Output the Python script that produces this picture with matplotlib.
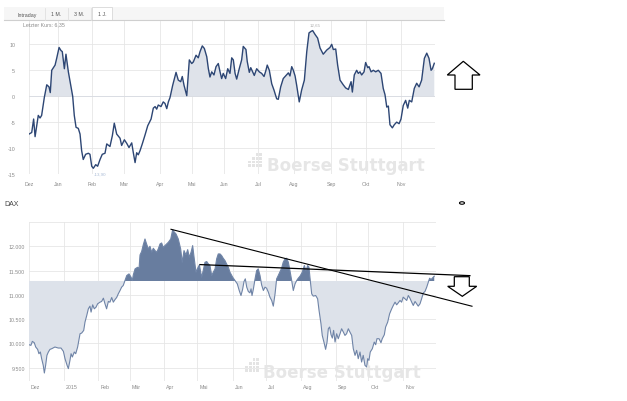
import matplotlib
matplotlib.use("Agg")
import matplotlib.pyplot as plt
from matplotlib.patches import Rectangle, Polygon, Ellipse
from matplotlib.lines import Line2D
import matplotlib.transforms as mtransforms
import numpy as np

plt.rcParams['font.family'] = ['Liberation Sans', 'DejaVu Sans']

# ---------------- data ----------------
# top chart: relative performance (%) vs trading-session index
top_t = [0, 1.7, 2.9, 3.8, 5.8, 6.9, 7.9, 9.6, 11.1, 12.5, 13.3, 14.2, 16.3, 17.3, 18.8, 20.0,
         20.8, 22.1, 23.1, 24.6, 26.1, 27.3, 28.3, 29.4, 30.8, 31.9, 32.9, 33.9, 35.4, 37.1,
         38.1, 39.2, 40.2, 41.7, 42.9, 44.4, 45.8, 47.5, 48.6, 50.6, 52.1, 53.3, 54.8, 56.9,
         57.9, 59.6, 61.1, 62.5, 64.2, 65.2, 66.3, 67.3, 68.3, 69.4, 70.8, 72.5, 74.2, 76.3,
         77.7, 78.8, 79.8, 80.8, 82.5, 83.9, 85.0, 86.1, 87.1, 88.1, 89.8, 91.9, 93.3, 94.8,
         95.8, 96.9, 98.6, 100.2, 101.7, 102.7, 104.4, 105.8, 106.9, 108.3, 109.6, 111.1,
         112.1, 113.1, 114.2, 115.6, 116.9, 118.3, 119.4, 120.4, 121.4, 122.9, 124.2, 125.6,
         126.7, 127.7, 128.8, 129.8, 131.4, 132.9, 133.9, 135.6, 136.4, 137.7, 138.6, 139.8,
         140.8, 142.3, 143.9, 145.4, 146.9, 148.1, 148.9, 150.2, 151.7, 153.1, 154.8, 155.8,
         157.3, 158.9, 160.6, 162.1, 163.1, 164.2, 165.2, 166.3, 167.3, 168.9, 170.4, 172.1,
         173.6, 175.0, 176.3, 177.3, 178.8, 180.4, 181.9, 183.9, 186.1, 188.1, 189.2, 190.2,
         191.7, 192.9, 194.4, 196.4, 197.9, 199.6, 201.3, 202.1, 203.3, 204.8, 205.8, 206.9,
         207.9, 209.4, 210.4, 211.7, 212.5, 213.8, 215.2, 216.7, 218.3, 220.0, 221.4, 222.5,
         223.6, 224.6, 225.6, 227.1, 228.3, 229.8, 231.3, 232.5, 233.9, 235.4, 236.7, 237.7,
         239.2, 240.8, 242.3, 243.8, 245.4, 247.1, 248.6, 250.0, 251.3, 252.1, 253.3]
top_v = [-7.3, -7.0, -4.4, -7.8, -3.7, -4.2, -3.7, -0.2, 2.2, 1.8, 0.7, 5.0, 6.0, 7.3, 9.4, 8.8,
         8.6, 5.3, 8.1, 4.7, 2.1, 0.0, -3.7, -6.0, -6.2, -7.3, -10.5, -12.2, -11.2, -11.0,
         -11.2, -13.5, -13.9, -13.2, -13.5, -12.2, -11.2, -11.0, -9.2, -9.7, -7.6, -5.2, -7.3, -8.1,
         -9.5, -8.4, -9.1, -9.9, -9.0, -10.9, -12.8, -10.9, -11.3, -10.5, -9.2, -7.5, -5.7, -4.4,
         -2.3, -2.0, -2.5, -1.7, -2.0, -1.1, -1.4, -2.4, -1.1, -0.3, 2.1, 4.6, 3.1, 2.8,
         3.8, 2.1, 0.1, 7.0, 6.3, 6.6, 7.9, 7.4, 8.6, 9.7, 9.2, 7.6,
         5.3, 3.7, 4.7, 4.1, 5.7, 6.3, 4.7, 3.4, 4.4, 3.4, 5.3, 4.4,
         7.4, 7.0, 4.4, 3.3, 5.3, 7.0, 9.6, 9.0, 6.7, 4.6, 5.5, 4.7,
         4.0, 5.3, 4.7, 4.4, 3.8, 5.0, 6.0, 5.0, 2.4, 1.2, -0.5, -0.6,
         1.8, 3.4, 4.0, 4.5, 3.9, 5.7, 5.0, 3.9, 2.1, -1.1, 1.2, 3.1,
         8.6, 12.2, 12.5, 12.65, 11.9, 11.2, 9.3, 8.1, 8.9, 9.4, 10.0, 9.0,
         9.1, 6.0, 3.1, 2.2, 1.6, 1.3, 2.8, 0.8, 4.1, 5.0, 4.4, 4.7,
         4.1, 4.7, 6.5, 5.5, 5.7, 4.7, 5.0, 4.7, 5.0, 4.4, 1.5, 0.3,
         -2.1, -1.9, -5.5, -6.1, -5.5, -5.0, -5.3, -4.4, -1.8, -0.8, -2.3, -0.8,
         -1.1, 1.5, 2.5, 1.8, 3.1, 7.3, 8.3, 7.3, 5.0, 5.3, 6.35]

top_month_pos = [0, 18.1, 39.4, 59.4, 81.9, 101.6, 121.9, 143.1, 165.6, 188.8, 210.6, 232.5]
top_month_lab = ["Dez", "Jan", "Feb", "Mar", "Apr", "Mai", "Jun", "Jul", "Aug", "Sep", "Okt", "Nov"]
top_yticks = [-15, -10, -5, 0, 5, 10]

# bottom chart: DAX
dax_t = [0.0, 1.2, 2.1, 3.3, 4.2, 5.4, 6.2, 7.1, 7.9, 8.9, 9.6, 10.4, 11.2, 12.1, 13.1, 14.2,
         16.2, 18.3, 20.0, 21.5, 22.5, 23.8, 24.6, 25.6, 26.3, 27.1, 28.3, 29.2, 30.4, 31.3,
         31.9, 32.9, 34.2, 35.0, 36.1, 37.1, 38.1, 38.8, 39.8, 40.8, 41.9, 42.9, 44.4, 45.4,
         46.5, 47.5, 48.5, 49.6, 50.6, 51.7, 52.7, 53.8, 54.8, 55.8, 56.9, 57.9, 58.9, 60.0,
         61.1, 62.5, 63.8, 64.6, 65.2, 66.3, 67.9, 68.8, 69.4, 70.4, 71.4, 72.5, 73.5, 74.6,
         75.6, 76.7, 77.7, 78.8, 79.8, 80.8, 81.9, 82.9, 83.9, 86.1, 87.1, 88.6, 89.8, 90.6,
         91.9, 93.3, 94.8, 95.8, 96.9, 98.1, 99.2, 100.2, 101.3, 102.3, 103.3, 104.4, 105.4,
         106.5, 107.9, 108.9, 110.0, 111.1, 112.1, 113.1, 114.2, 115.2, 116.3, 117.3, 118.3,
         119.4, 120.4, 121.4, 122.5, 123.5, 124.6, 125.6, 127.3, 128.8, 130.2, 131.4, 132.5,
         133.5, 134.4, 135.2, 136.1, 137.1, 138.1, 138.8, 139.4, 140.2, 141.3, 142.3, 143.3,
         144.4, 145.4, 146.5, 147.5, 148.5, 149.6, 150.6, 151.7, 152.7, 153.8, 154.8, 155.8,
         156.9, 157.9, 158.9, 160.0, 161.1, 162.1, 163.1, 164.2, 165.2, 166.3, 167.3, 168.3,
         169.4, 170.8, 172.1, 173.1, 174.2, 175.0, 175.6, 176.7, 177.7, 179.2, 180.4, 181.3,
         182.5, 183.3, 184.6, 185.4, 186.3, 187.1, 187.9, 188.8, 189.6, 190.4, 191.3, 192.3,
         193.3, 194.4, 195.4, 196.5, 197.5, 198.5, 199.6, 200.6, 201.7, 202.7, 203.8, 204.8,
         205.8, 206.9, 207.9, 208.9, 210.0, 211.1, 211.7, 212.5, 213.3, 214.6, 215.8, 216.7,
         217.5, 218.8, 220.0, 220.8, 222.1, 222.9, 224.2, 225.4, 226.7, 227.7, 228.8, 229.8,
         230.8, 231.9, 232.9, 233.9, 235.0, 236.1, 237.1, 238.1, 239.2, 240.2, 241.3, 242.3,
         243.3, 244.4, 245.4, 246.5, 247.5, 248.6, 249.6, 250.4, 251.3, 252.1, 253.3]
dax_v = [9972, 9959, 10041, 10013, 9925, 9876, 9787, 9822, 9685, 9548, 9390, 9548, 9753, 9822,
         9876, 9890, 9925, 9904, 9904, 9835, 9685, 9548, 9480, 9650, 9787, 9719, 9822, 9787,
         9925, 10096, 10198, 10212, 10267, 10438, 10575, 10712, 10767, 10644, 10794, 10712,
         10746, 10815, 10849, 10863, 10931, 10815, 10712, 10863, 10849, 10945, 10849, 10904,
         10945, 11020, 11089, 11158, 11192, 11294, 11397, 11431, 11363, 11294, 11411, 11534,
         11568, 11548, 11822, 11890, 12027, 12150, 12048, 11945, 12000, 11877, 11959, 11911,
         11877, 11945, 12048, 12068, 11979, 12048, 12082, 12150, 12340, 12301, 12253, 12150,
         11945, 11671, 11911, 11822, 11931, 11774, 11877, 12014, 11740, 11466, 11548, 11616,
         11363, 11500, 11671, 11685, 11637, 11603, 11397, 11466, 11534, 11740, 11842, 11842,
         11808, 11753, 11705, 11637, 11568, 11466, 11363, 11294, 11226, 11089, 10986, 11110,
         11274, 11329, 11158, 11068, 11041, 11123, 10986, 11110, 11329, 11500, 11534, 11397,
         11205, 11089, 11158, 11137, 11055, 10952, 10884, 10767, 11020, 11329, 11397, 11479,
         11548, 11671, 11740, 11753, 11671, 11500, 11294, 11089, 11226, 11294, 11342, 11384,
         11466, 11603, 11500, 11603, 11568, 11363, 11020, 10973, 10986, 10918, 10678, 10404,
         10164, 9993, 9877, 10027, 10301, 10336, 10178, 10109, 10267, 10027, 10198, 10096,
         10198, 10301, 10233, 10164, 10198, 10301, 10233, 10164, 9890, 9753, 9856, 9685,
         9822, 9616, 9753, 9548, 9513, 9685, 9650, 9822, 9890, 10027, 9972, 10096, 10096,
         10014, 10096, 10178, 10336, 10438, 10609, 10712, 10781, 10849, 10794, 10835, 10884,
         10849, 10952, 10918, 10884, 10986, 10931, 10849, 10781, 10863, 10815, 10767, 10815,
         10918, 11041, 11068, 11158, 11260, 11342, 11315, 11342, 11384]
dax_base = 11285

dax_month_pos = [0, 21.9, 43.3, 63.1, 84.4, 105.3, 127.2, 148.1, 170.0, 191.6, 212.2, 233.8]
dax_month_lab = ["Dez", "2015", "Feb", "Mär", "Apr", "Mai", "Jun", "Jul", "Aug", "Sep", "Okt", "Nov"]
dax_yticks = [9500, 10000, 10500, 11000, 11500, 12000]
dax_ylabels = ["9.500", "10.000", "10.500", "11.000", "11.500", "12.000"]

# hand-drawn trend lines (t, DAX level)
trend1_t = [88.75, 276.9]
trend1_v = [12350, 10765]
trend2_t = [106.9, 275.6]
trend2_v = [11623, 11395]

# ---------------- figure ----------------
W, H = 627, 402
fig = plt.figure(figsize=(W / 100, H / 100), dpi=100)
fig.patch.set_facecolor("white")


def fx(x):
    return x / W


def fy(y):
    return 1 - y / H


grid_c = "#e6e6e6"
lab_c = "#8a8a8a"

# ---- header tab bar ----
fig.patches.append(Rectangle((fx(4), fy(21)), fx(440), 13 / H, transform=fig.transFigure,
                             facecolor="#f6f6f6", edgecolor="none", zorder=0))
fig.lines.append(Line2D([fx(4), fx(444)], [fy(21), fy(21)], transform=fig.transFigure,
                        color="#cfcfcf", lw=0.8))
fig.patches.append(Rectangle((fx(92), fy(21)), fx(20), 13 / H, transform=fig.transFigure,
                             facecolor="white", edgecolor="#d8d8d8", lw=0.6, zorder=1))
for sx in [45, 68, 91]:
    fig.lines.append(Line2D([fx(sx), fx(sx)], [fy(9), fy(21)], transform=fig.transFigure,
                            color="#e0e0e0", lw=0.6))
for txt, cx in [("Intraday", 27.5), ("1 M.", 56), ("3 M.", 79), ("1 J.", 102)]:
    fig.text(fx(cx), fy(15), txt, ha="center", va="center", fontsize=3.8, color="#555555")

# ---------------- top axes ----------------
ax1 = fig.add_axes([fx(29), fy(175), fx(435 - 29), (175 - 22) / H])
ax1.plot(top_t, top_v, color="#2d4674", lw=1.0, zorder=3)
tv = np.array(top_v)
ax1.fill_between(top_t, top_v, 0, where=tv >= 0, interpolate=True,
                 color="#dfe3ea", lw=0, zorder=2)
ax1.set_xlim(0, 253.75)
ax1.set_ylim(-15, 14.5)
ax1.set_yticks(top_yticks)
ax1.set_yticklabels([str(v) for v in top_yticks])
ax1.set_xticks(top_month_pos)
ax1.set_xticklabels(top_month_lab)
ax1.grid(True, color=grid_c, lw=0.6)
ax1.axvline(253.75, color=grid_c, lw=0.6)
ax1.axhline(0, color="#d8dbe2", lw=0.6, zorder=2)
for s in ax1.spines.values():
    s.set_visible(False)
ax1.tick_params(length=0, labelsize=3.8, labelcolor=lab_c)
ax1.tick_params(axis="y", pad=10)
ax1.tick_params(axis="x", pad=5)
ax1.set_axisbelow(True)
fig.text(fx(23), fy(24.5), "Letzter Kurs: 6,35", fontsize=3.8, color="#8c8c8c",
         ha="left", va="center")
ax1.annotate("12,65", (177.3, 12.65), xytext=(-2, 3), textcoords="offset points",
             fontsize=3.2, color="#b0b0b0", ha="left", va="bottom")
ax1.annotate("-13,90", (40.2, -13.9), xytext=(0, -2), textcoords="offset points",
             fontsize=3.2, color="#a9bbd6", ha="left", va="top")

# ---------------- bottom axes ----------------
ax2 = fig.add_axes([fx(29), fy(382), fx(436 - 29), (382 - 223) / H])
dv = np.array(dax_v)
ax2.fill_between(dax_t, dax_v, dax_base, where=dv >= dax_base, interpolate=True,
                 color="#687d9f", lw=0, zorder=2)
ax2.fill_between(dax_t, dax_v, dax_base, where=dv <= dax_base, interpolate=True,
                 color="#dde2ea", lw=0, zorder=2)
ax2.plot(dax_t, dax_v, color="#6f84a7", lw=0.8, zorder=3)
ax2.set_xlim(0, 254.4)
ax2.set_ylim(9225, 12500)
ax2.set_yticks(dax_yticks + [12500])
ax2.set_yticklabels(dax_ylabels + [""])
ax2.set_xticks(dax_month_pos)
ax2.set_xticklabels(dax_month_lab, ha="left")
ax2.grid(True, color=grid_c, lw=0.6)
ax2.axvline(254.4, color=grid_c, lw=0.6)
for s in ax2.spines.values():
    s.set_visible(False)
ax2.tick_params(length=0, labelsize=3.8, labelcolor=lab_c)
ax2.tick_params(axis="y", pad=3)
ax2.tick_params(axis="x", pad=2)
ax2.set_axisbelow(True)
off = mtransforms.ScaledTranslation(1.5 / 72, 0, fig.dpi_scale_trans)
for lbl in ax2.get_xticklabels():
    lbl.set_transform(lbl.get_transform() + off)

ax2.plot(trend1_t, trend1_v, color="black", lw=0.8, clip_on=False, zorder=5)
ax2.plot(trend2_t, trend2_v, color="black", lw=0.9, clip_on=False, zorder=5)

fig.text(fx(4), fy(205), "DAX", fontsize=5, color="#444444", ha="left", va="center")

# ---- watermarks ----
def watermark(text_x, base_y, logo_x, logo_y):
    fig.text(fx(text_x), fy(base_y), "Boerse Stuttgart", fontsize=12, fontweight="bold",
             family="DejaVu Sans", color="#e6e6e6", ha="left", va="baseline", zorder=1)
    for i in range(4):
        for j in range(4):
            if i + j < 2:
                continue
            fig.patches.append(Rectangle((fx(logo_x + i * 3.8), fy(logo_y + j * 3.8 + 2.8)),
                                         2.8 / W, 2.8 / H, transform=fig.transFigure,
                                         facecolor="#e4e4e4", edgecolor="none", zorder=1))

watermark(267, 171, 248, 154)
watermark(263, 378, 245, 359)

# ---- arrows ----
up = [(463.3, 62.3), (480, 76), (472.3, 76), (472.3, 90.3), (455, 90.3), (455, 76), (447.3, 76)]
fig.patches.append(Polygon([(fx(a), fy(b)) for a, b in up], closed=True, transform=fig.transFigure,
                           facecolor="white", edgecolor="black", lw=0.9))
down = [(454.3, 277.7), (469.3, 277.7), (469.3, 287.3), (476.7, 287.3), (462.3, 297.3),
        (447.7, 287.3), (454.3, 287.3)]
fig.patches.append(Polygon([(fx(a), fy(b)) for a, b in down], closed=True, transform=fig.transFigure,
                           facecolor="white", edgecolor="black", lw=0.9))
fig.patches.append(Ellipse((fx(462), fy(204)), 5 / W, 2.5 / H, transform=fig.transFigure,
                           facecolor="white", edgecolor="black", lw=0.8))

fig.savefig("out.png", dpi=100)
